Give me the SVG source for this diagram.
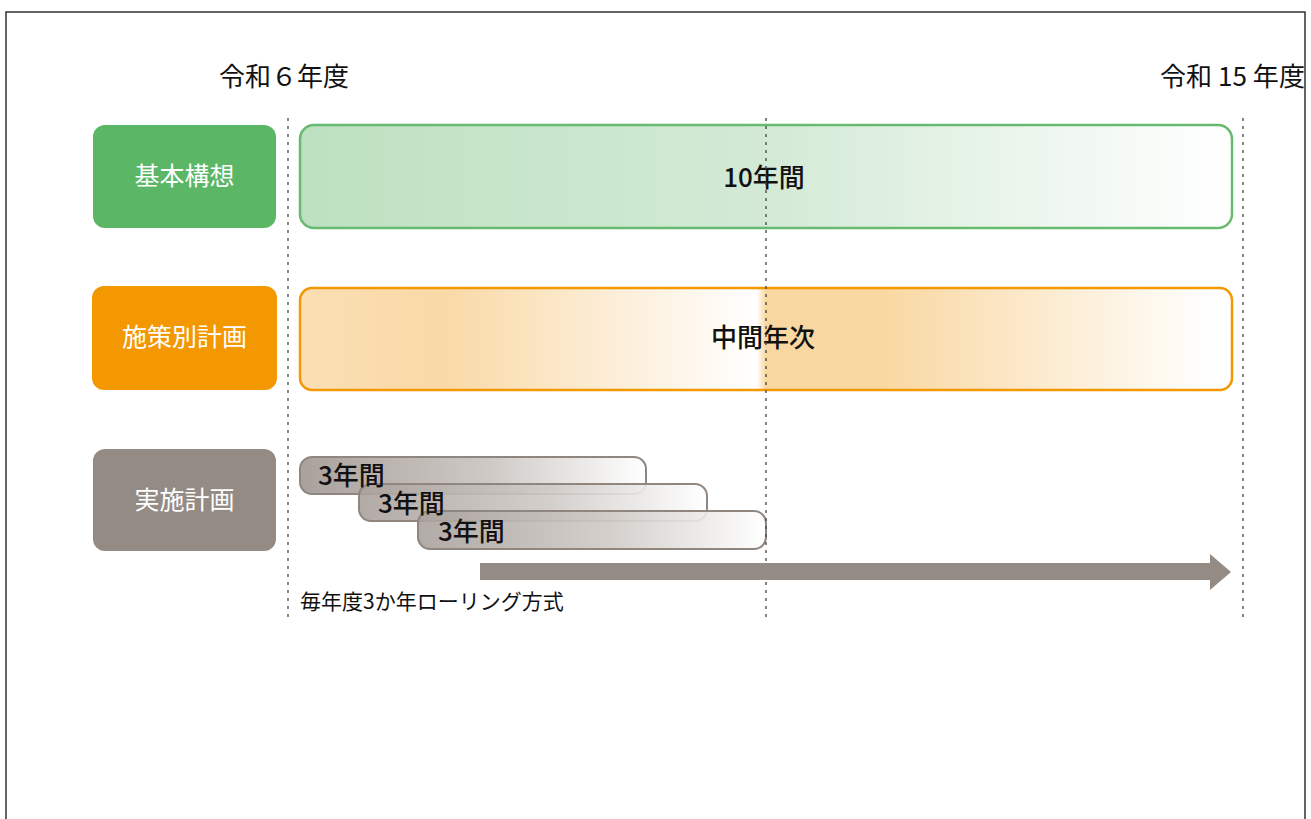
<svg xmlns="http://www.w3.org/2000/svg" width="1311" height="819" viewBox="0 0 1311 819">
<style>
.jp{font-family:"Noto Sans CJK JP","Noto Sans",sans-serif}
.lbl{font-size:25px;fill:#fff;text-anchor:middle}
.yr{font-size:26px;fill:#111}
.dot{stroke:#444;stroke-width:1.3;stroke-dasharray:3 5;fill:none}
.bartxt{font-size:26px;fill:#111;font-weight:500}
.short{stroke:#8f8680;stroke-width:2}
</style>
<defs>
<linearGradient id="gg" x1="0" x2="1" y1="0" y2="0">
<stop offset="0" stop-color="#bde1c0"/>
<stop offset="0.5" stop-color="#d3ead6"/>
<stop offset="1" stop-color="#ffffff"/>
</linearGradient>
<linearGradient id="og" x1="0" x2="1" y1="0" y2="0">
<stop offset="0" stop-color="#fbdfb4"/>
<stop offset="0.15" stop-color="#f9d9a6"/>
<stop offset="0.49" stop-color="#ffffff"/>
<stop offset="0.5" stop-color="#f9d7a0"/>
<stop offset="0.62" stop-color="#f9d7a0"/>
<stop offset="0.98" stop-color="#ffffff"/>
</linearGradient>
<linearGradient id="sg" x1="0" x2="1" y1="0" y2="0">
<stop offset="0" stop-color="#a9a19c"/>
<stop offset="0.55" stop-color="#cfcac6"/>
<stop offset="1" stop-color="#ffffff"/>
</linearGradient>
</defs>
<rect x="0" y="0" width="1311" height="819" fill="#fff"/>
<path d="M6,830 V12 H1305 V830" fill="none" stroke="#333" stroke-width="1.5"/>
<g id="years">
<text class="jp yr" x="219" y="86">令和６年度</text>
<text class="jp yr" x="1305" y="86" text-anchor="end" textLength="145" lengthAdjust="spacingAndGlyphs">令和 15 年度</text>
</g>
<g id="kihon">
<rect x="93" y="125" width="183" height="103" rx="12" fill="#5bb766"/>
<text class="jp lbl" x="184.5" y="185">基本構想</text>
</g>
<g id="kihon-bar">
<rect x="300" y="125" width="932" height="103" rx="14" fill="url(#gg)" stroke="#67ba6f" stroke-width="2.5"/>
<text class="jp bartxt" x="764" y="187" text-anchor="middle">10年間</text>
</g>
<g id="shisaku">
<rect x="92" y="286" width="185" height="104" rx="12" fill="#f39800"/>
<text class="jp lbl" x="184.5" y="346">施策別計画</text>
</g>
<g id="shisaku-bar">
<rect x="300" y="288" width="932" height="102" rx="12" fill="url(#og)" stroke="#f39800" stroke-width="2.5"/>
<text class="jp bartxt" x="763" y="347" text-anchor="middle">中間年次</text>
</g>
<g id="jisshi">
<rect x="93" y="449" width="183" height="102" rx="12" fill="#958b85"/>
<text class="jp lbl" x="184.5" y="509">実施計画</text>
</g>
<g id="short-bars">
<rect x="300" y="457" width="346" height="37" rx="12" fill="url(#sg)" class="short"/>
<rect x="359" y="484" width="348" height="37" rx="12" fill="url(#sg)" class="short" fill-opacity="0.9"/>
<rect x="418" y="511" width="348" height="38" rx="12" fill="url(#sg)" class="short" fill-opacity="0.9"/>
<text class="jp bartxt" x="318" y="485">3年間</text>
<text class="jp bartxt" x="378" y="513">3年間</text>
<text class="jp bartxt" x="438" y="541">3年間</text>
</g>
<g id="gridlines">
<line class="dot" x1="288" y1="118" x2="288" y2="622"/>
<line class="dot" x1="766" y1="118" x2="766" y2="622"/>
<line class="dot" x1="1243" y1="118" x2="1243" y2="622"/>
</g>
<g id="connectors">
<path d="M480,563 H1210 V554 L1231,572 L1210,590 V580 H480 Z" fill="#958b85"/>
</g>
<g id="note">
<text class="jp" x="300" y="609" font-size="21" fill="#111">毎年度3か年ローリング方式</text>
</g>
</svg>
